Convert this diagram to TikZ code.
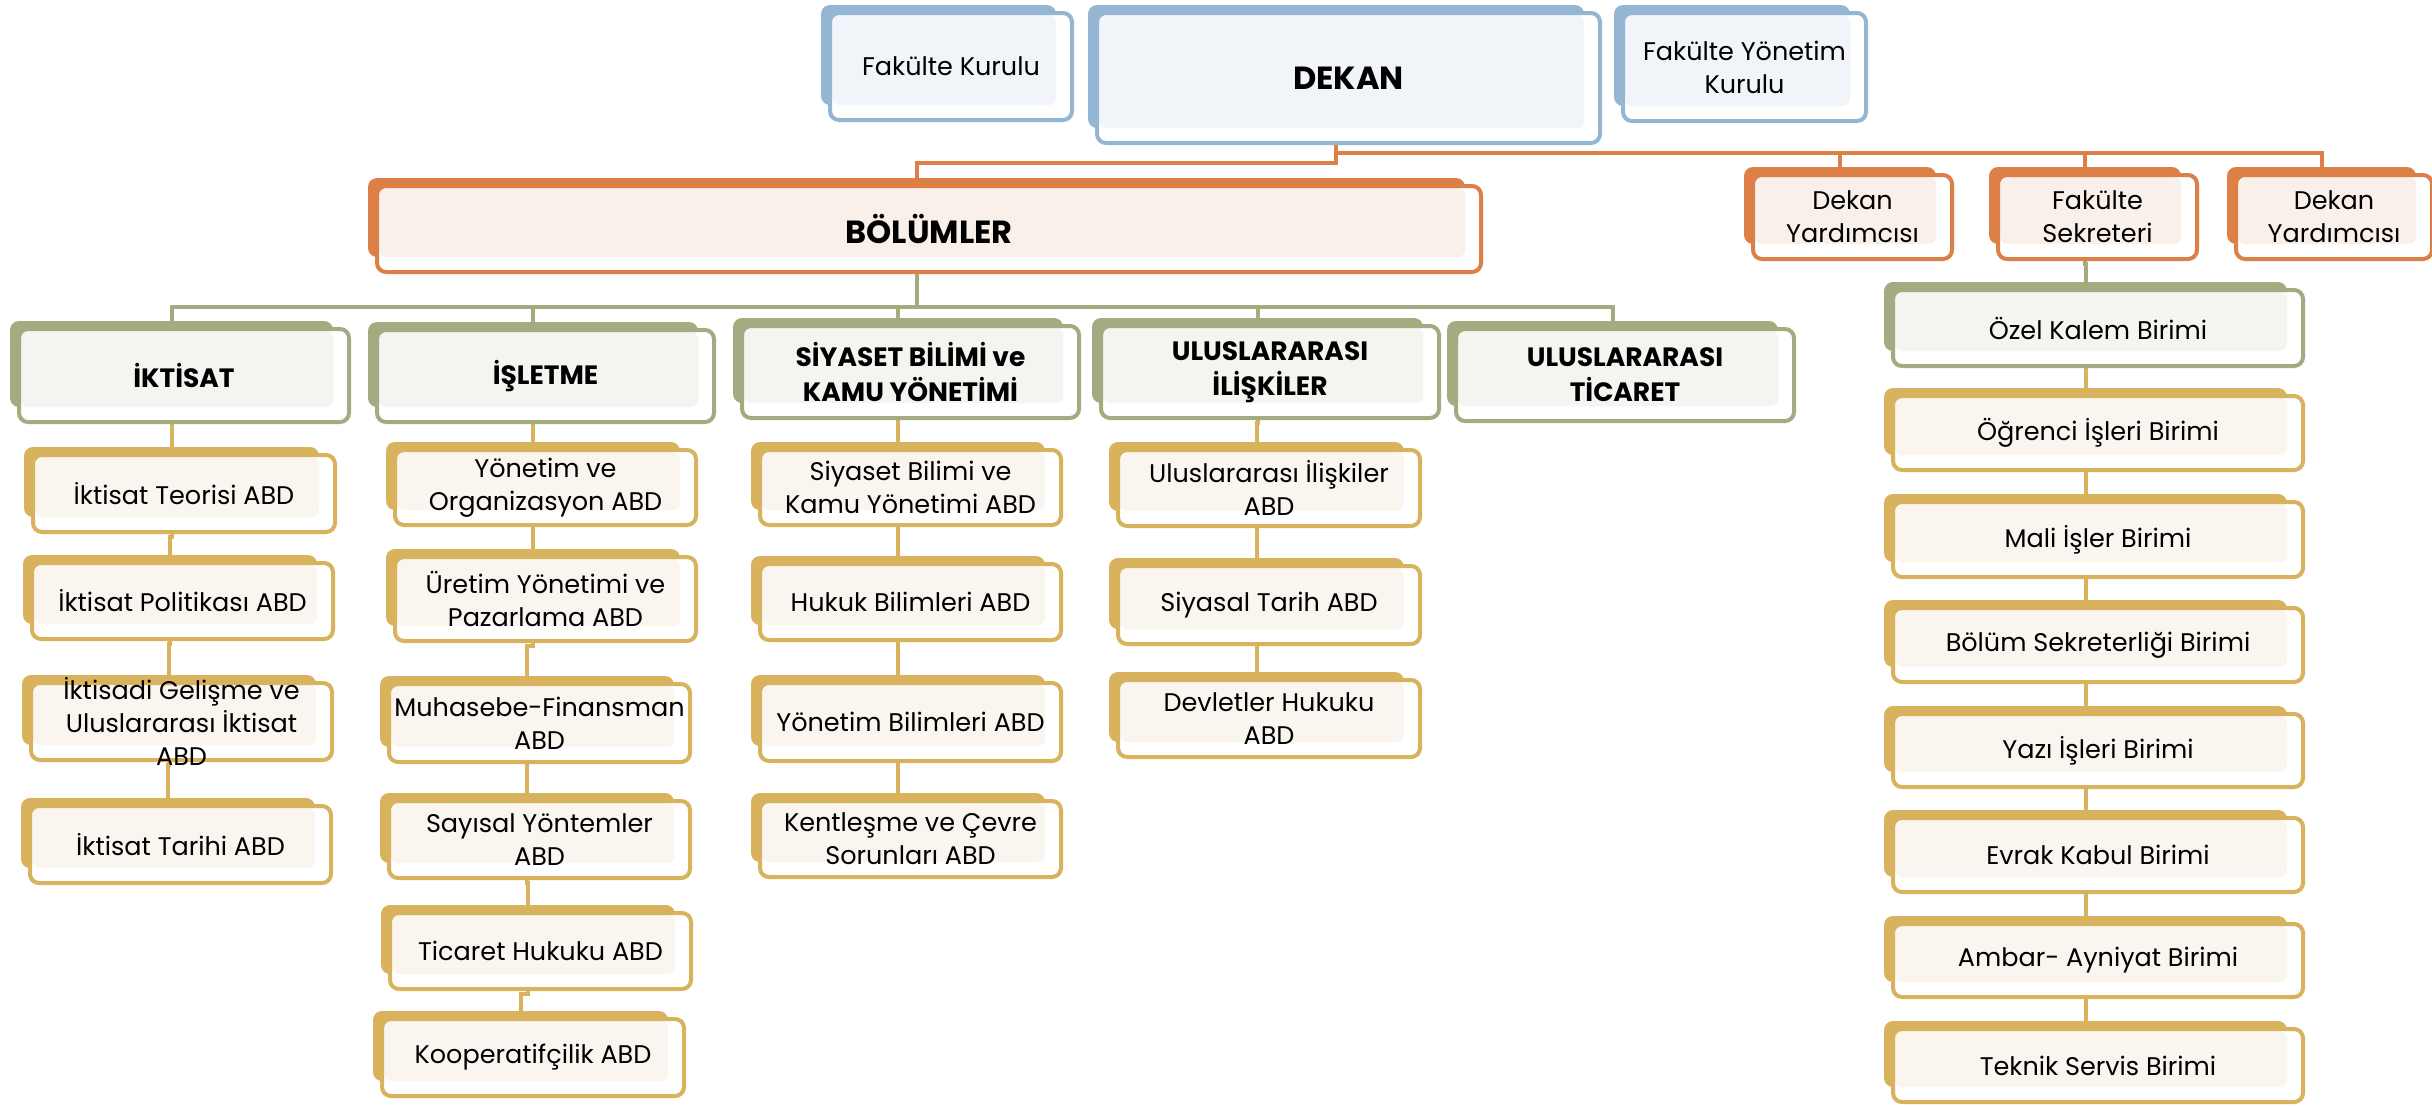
\documentclass[tikz,border=0pt]{standalone}
\usepackage{fontspec}
\setmainfont{Poppins}
\usetikzlibrary{calc}
\pgfdeclarelayer{bg}
\pgfsetlayers{bg,main}
\definecolor{cblue}{HTML}{94B6D2}
\definecolor{tblue}{HTML}{F1F5F9}
\definecolor{corange}{HTML}{DD8047}
\definecolor{torange}{HTML}{FAF0EA}
\definecolor{cgreen}{HTML}{A5AB81}
\definecolor{tgreen}{HTML}{F4F4F0}
\definecolor{cgold}{HTML}{D8B25C}
\definecolor{tgold}{HTML}{FAF6EF}
\tikzset{
  backbox/.style={fill=#1, rounded corners=9pt, inner sep=0pt, outer sep=0pt},
  frontbox/.style={draw=#1, line width=4pt, rounded corners=9pt, inner sep=0pt, outer sep=0pt},
  boxtext/.style={inner sep=0pt, align=center, font=\fontsize{25.5}{33}\selectfont},
  headtext/.style={inner sep=0pt, align=center, font=\fontsize{26.5}{35}\selectfont\bfseries},
  bigtext/.style={inner sep=0pt, align=center, font=\fontsize{32}{38}\selectfont\bfseries},
  link/.style={draw=#1, line width=4pt},
}
% #1 name, #2 colour, #3 x0, #4 y0, #5 x1, #6 y1 (back box), #7 text style, #8 text
\newcommand\orgbox[8]{%
  \node[backbox=c#2, minimum width={(#5-#3)*1pt}, minimum height={(#6-#4)*1pt}] (#1b) at ({(#3+#5)/2},{(#4+#6)/2}) {};
  \fill[white, rounded corners=9pt] ({#3+9},{#4+8}) rectangle ({#5+16},{#6+15});
  \fill[t#2, rounded corners=7pt] ({#3+11},{#4+10}) rectangle (#5,#6);
  \node[frontbox=c#2, minimum width={(#5-#3+7)*1pt}, minimum height={(#6-#4+7)*1pt}] (#1) at ({(#3+#5+25)/2},{(#4+#6+23)/2}) {};
  \node[#7] (#1t) at (#1.center) {#8};
}
\begin{document}
\begin{tikzpicture}[x=1pt,y=-1pt]
\useasboundingbox (0,0) rectangle (2432,1106);
\begin{pgfonlayer}{bg}
\fill[white] (0,0) rectangle (2432,1106);
\end{pgfonlayer}
% top
\orgbox{fk}{blue}{821}{5}{1056}{105}{boxtext}{Fakülte Kurulu}
\orgbox{dekan}{blue}{1088}{5}{1584}{128}{bigtext}{DEKAN}
\orgbox{fyk}{blue}{1614}{5}{1850}{106}{boxtext}{Fakülte Yönetim\\Kurulu}
% orange level
\orgbox{bol}{orange}{368}{178}{1465}{257}{bigtext}{BÖLÜMLER}
\orgbox{dy1}{orange}{1744}{167}{1936}{244}{boxtext}{Dekan\\Yardımcısı}
\orgbox{fs}{orange}{1989}{167}{2181}{244}{boxtext}{Fakülte\\Sekreteri}
\orgbox{dy2}{orange}{2227}{167}{2416}{244}{boxtext}{Dekan\\Yardımcısı}
% departments
\orgbox{ikt}{green}{10}{321}{333}{407}{headtext}{İKTİSAT}
\orgbox{isl}{green}{368}{322}{698}{407}{headtext}{İŞLETME}
\orgbox{siy}{green}{733}{318}{1063}{403}{headtext}{SİYASET BİLİMİ ve\\KAMU YÖNETİMİ}
\orgbox{uli}{green}{1092}{318}{1423}{403}{headtext}{ULUSLARARASI\\İLİŞKİLER}
\orgbox{uti}{green}{1447}{321}{1778}{406}{headtext}{ULUSLARARASI\\TİCARET}
% iktisat column
\orgbox{ik1}{gold}{24}{447}{319}{517}{boxtext}{İktisat Teorisi ABD}
\orgbox{ik2}{gold}{23}{555}{317}{624}{boxtext}{İktisat Politikası ABD}
\orgbox{ik3}{gold}{22}{675}{316}{745}{boxtext}{İktisadi Gelişme ve\\Uluslararası İktisat\\ABD}
\orgbox{ik4}{gold}{21}{798}{315}{868}{boxtext}{İktisat Tarihi ABD}
% isletme column
\orgbox{is1}{gold}{386}{442}{680}{510}{boxtext}{Yönetim ve\\Organizasyon ABD}
\orgbox{is2}{gold}{386}{549}{680}{626}{boxtext}{Üretim Yönetimi ve\\Pazarlama ABD}
\orgbox{is3}{gold}{380}{676}{674}{747}{boxtext}{Muhasebe-Finansman\\ABD}
\orgbox{is4}{gold}{380}{793}{674}{863}{boxtext}{Sayısal Yöntemler\\ABD}
\orgbox{is5}{gold}{381}{905}{675}{974}{boxtext}{Ticaret Hukuku ABD}
\orgbox{is6}{gold}{373}{1011}{668}{1081}{boxtext}{Kooperatifçilik ABD}
% siyaset column
\orgbox{si1}{gold}{751}{442}{1045}{510}{boxtext}{Siyaset Bilimi ve\\Kamu Yönetimi ABD}
\orgbox{si2}{gold}{751}{556}{1045}{625}{boxtext}{Hukuk Bilimleri ABD}
\orgbox{si3}{gold}{751}{675}{1045}{746}{boxtext}{Yönetim Bilimleri ABD}
\orgbox{si4}{gold}{751}{793}{1045}{862}{boxtext}{Kentleşme ve Çevre\\Sorunları ABD}
% uluslararasi iliskiler column
\orgbox{ul1}{gold}{1109}{442}{1404}{511}{boxtext}{Uluslararası İlişkiler\\ABD}
\orgbox{ul2}{gold}{1109}{558}{1404}{629}{boxtext}{Siyasal Tarih ABD}
\orgbox{ul3}{gold}{1109}{672}{1404}{742}{boxtext}{Devletler Hukuku\\ABD}
% right column
\orgbox{r1}{green}{1884}{282}{2287}{351}{boxtext}{Özel Kalem Birimi}
\orgbox{r2}{gold}{1884}{388}{2287}{455}{boxtext}{Öğrenci İşleri Birimi}
\orgbox{r3}{gold}{1884}{494}{2287}{562}{boxtext}{Mali İşler Birimi}
\orgbox{r4}{gold}{1884}{600}{2287}{667}{boxtext}{Bölüm Sekreterliği Birimi}
\orgbox{r5}{gold}{1884}{706}{2287}{772}{boxtext}{Yazı İşleri Birimi}
\orgbox{r6}{gold}{1884}{810}{2287}{877}{boxtext}{Evrak Kabul Birimi}
\orgbox{r7}{gold}{1884}{916}{2287}{982}{boxtext}{Ambar- Ayniyat Birimi}
\orgbox{r8}{gold}{1884}{1021}{2287}{1087}{boxtext}{Teknik Servis Birimi}
% connectors
\begin{pgfonlayer}{bg}
\draw[link=corange] (dekanb.south) -- ++(0,35) -| (bolb.north);
\draw[link=corange] (dekanb.south) ++(0,25) -| (dy1b.north);
\draw[link=corange] (dekanb.south) ++(0,25) -| (fsb.north);
\draw[link=corange] (dekanb.south) ++(0,25) -| (dy2b.north);
\foreach \d in {iktb,islb,siyb,ulib,utib}
  \draw[link=cgreen] (bolb.south) -- ++(0,50) -| (\d.north);
\draw[link=cgreen] (fsb.south) -- ++(0,20) -| (r1b.north);
\foreach \a/\b in {iktb/ik1b,ik1b/ik2b,ik2b/ik3b,ik3b/ik4b,
                   islb/is1b,is1b/is2b,is2b/is3b,is3b/is4b,is4b/is5b,is5b/is6b,
                   siyb/si1b,si1b/si2b,si2b/si3b,si3b/si4b,
                   ulib/ul1b,ul1b/ul2b,ul2b/ul3b,
                   r1b/r2b,r2b/r3b,r3b/r4b,r4b/r5b,r5b/r6b,r6b/r7b,r7b/r8b}
  \draw[link=cgold] (\a.south) -- ++(0,20) -| (\b.north);
\end{pgfonlayer}
\end{tikzpicture}
\end{document}
